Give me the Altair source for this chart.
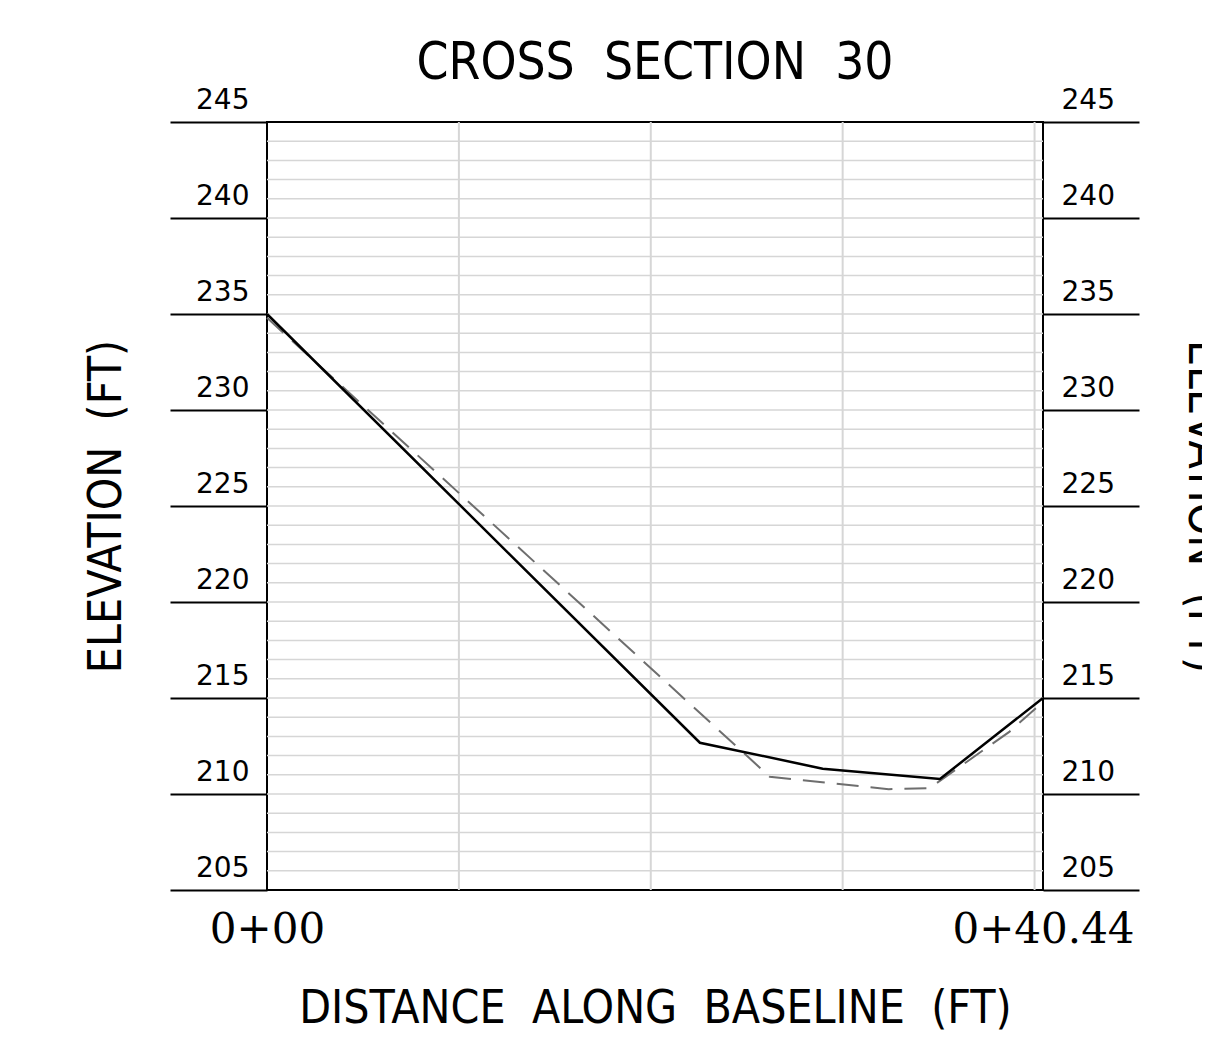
import altair as alt
import pandas as pd

# ---------------- data ----------------
chart_title = "CROSS \u00a0SECTION \u00a030"
y_title = "ELEVATION \u00a0(FT)"
x_title = "DISTANCE \u00a0ALONG \u00a0BASELINE \u00a0(FT)"

x_min, x_max = 0.0, 40.44
y_min, y_max = 205, 245

station_values = [0.0, 40.44]
station_labels = ["0+00", "0+40.44"]

elev_major = [205, 210, 215, 220, 225, 230, 235, 240, 245]
elev_minor = list(range(206, 245))
dist_grid = [10, 20, 30, 40]

# solid profile
solid_x = [0.0, 22.56, 28.96, 35.07, 40.44]
solid_y = [235.0, 212.67, 211.32, 210.78, 215.0]

# dashed profile
dash_x = [0.0, 26.2, 32.4, 34.4, 34.8, 38.7, 40.44]
dash_y = [234.8, 210.9, 210.25, 210.3, 210.5, 213.25, 214.8]

# ---------------- style ----------------
SANS = "DejaVu Sans Condensed, DejaVu Sans"
GRID = "#d6d6d6"

xscale = alt.Scale(domain=[x_min, x_max], nice=False, zero=False)
yscale = alt.Scale(domain=[y_min, y_max], nice=False, zero=False)

label_expr = "datum.value < {m} ? '{a}' : '{b}'".format(
    m=(station_values[0] + station_values[1]) / 2,
    a=station_labels[0], b=station_labels[1])

x_axis = alt.Axis(
    values=station_values, labelExpr=label_expr, domain=False, ticks=False,
    grid=False, labelFont="DejaVu Serif", labelFontSize=42, labelColor="black",
    labelPadding=19, labelFlush=False, labelOverlap=False, labelBaseline="top",
    labelLimit=1000,
    title=x_title, titleFont=SANS, titleFontSize=46, titleFontWeight="normal",
    titleColor="black", titleX=388, titleY=132, titleAlign="center",
    titleBaseline="alphabetic", titleLimit=2000)

left_axis = alt.Axis(
    orient="left", values=elev_major, grid=False, domain=False, ticks=True,
    tickSize=97, tickWidth=2, tickColor="black", labelFont="DejaVu Sans",
    labelFontSize=28, labelColor="black", labelAlign="right",
    labelBaseline="alphabetic", labelOffset=-14, labelPadding=-79,
    labelFlush=False, labelOverlap=False,
    title=y_title, titleFont=SANS, titleFontSize=46, titleFontWeight="normal",
    titleColor="black", titleAngle=270, titleX=-147, titleY=384,
    titleAlign="center", titleBaseline="alphabetic", titleLimit=2000)

right_axis = alt.Axis(
    orient="right", values=elev_major, grid=False, domain=False, ticks=True,
    tickSize=96, tickWidth=2, tickColor="black", labelFont="DejaVu Sans",
    labelFontSize=28, labelColor="black", labelAlign="left",
    labelBaseline="alphabetic", labelOffset=-14, labelPadding=-78,
    labelFlush=False, labelOverlap=False,
    title=y_title, titleFont=SANS, titleFontSize=46, titleFontWeight="normal",
    titleColor="black", titleAngle=90, titleX=145, titleY=384,
    titleAlign="center", titleBaseline="alphabetic", titleLimit=2000)

# ---------------- layers ----------------
grid_h_df = pd.DataFrame({"elev": elev_minor,
                          "x0": [x_min] * len(elev_minor),
                          "x1": [x_max] * len(elev_minor)})
grid_h = alt.Chart(grid_h_df).mark_rule(color=GRID, strokeWidth=1.5).encode(
    x=alt.X("x0:Q", scale=xscale, axis=x_axis),
    x2="x1:Q",
    y=alt.Y("elev:Q", scale=yscale, axis=left_axis),
)

grid_v_df = pd.DataFrame({"dist": dist_grid,
                          "y0": [y_min] * len(dist_grid),
                          "y1": [y_max] * len(dist_grid)})
grid_v = alt.Chart(grid_v_df).mark_rule(color=GRID, strokeWidth=2).encode(
    x=alt.X("dist:Q", scale=xscale, axis=x_axis),
    y=alt.Y("y0:Q", scale=yscale, axis=None),
    y2="y1:Q",
)

dash_df = pd.DataFrame({"dist": dash_x, "elev": dash_y})
dashed = alt.Chart(dash_df).mark_line(
    color="#6e6e6e", strokeWidth=2, strokeDash=[22, 12]).encode(
    x=alt.X("dist:Q", scale=xscale, axis=x_axis),
    y=alt.Y("elev:Q", scale=yscale, axis=None),
)

solid_df = pd.DataFrame({"dist": solid_x, "elev": solid_y})
solid = alt.Chart(solid_df).mark_line(color="black", strokeWidth=2.5).encode(
    x=alt.X("dist:Q", scale=xscale, axis=x_axis),
    y=alt.Y("elev:Q", scale=yscale, axis=right_axis),
)

chart = alt.layer(grid_h, grid_v, dashed, solid).resolve_axis(
    y="independent"
).properties(
    width=776, height=768,
    background="white",
    autosize=alt.AutoSizeParams(type="none"),
    padding={"left": 259, "top": 114, "right": 159, "bottom": 150},
    title=alt.TitleParams(
        text=chart_title, font=SANS, fontSize=51, fontWeight="normal",
        color="black", anchor="middle", frame="group",
        baseline="alphabetic", offset=-44, limit=2000),
).configure_view(
    stroke="black", strokeWidth=2
)

chart.save("out.html", embed_options={"renderer": "svg", "actions": False})
